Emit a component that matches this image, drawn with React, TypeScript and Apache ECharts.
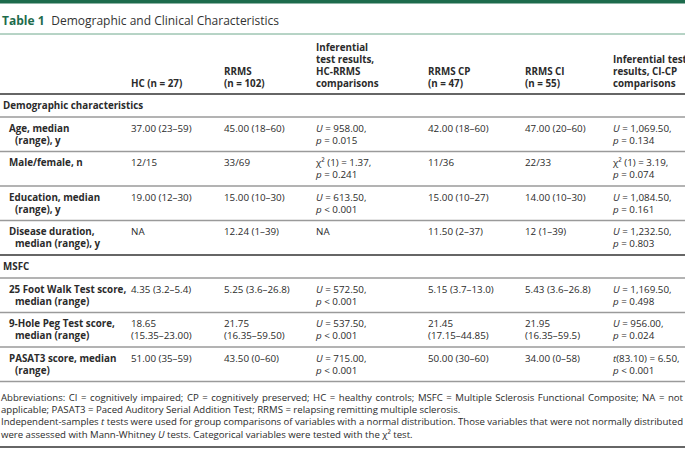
import React, { useEffect, useRef } from "react";
import * as echarts from "echarts";

const title = "Demographic and Clinical Characteristics";
const tableLabel = "Table 1";

const headers = [
  "",
  "HC (n = 27)",
  "RRMS\n(n = 102)",
  "Inferential\ntest results,\nHC-RRMS\ncomparisons",
  "RRMS CP\n(n = 47)",
  "RRMS CI\n(n = 55)",
  "Inferential test\nresults, CI-CP\ncomparisons",
];

const sections = ["Demographic characteristics", "MSFC"];

const rowLabels = [
  ["Age, median", "(range), y"],
  ["Male/female, n"],
  ["Education, median", "(range), y"],
  ["Disease duration,", "median (range), y"],
  ["25 Foot Walk Test score,", "median (range)"],
  ["9-Hole Peg Test score,", "median (range)"],
  ["PASAT3 score, median", "(range)"],
];
const rowSection = [0, 0, 0, 0, 1, 1, 1];

const hcValues = ["37.00 (23–59)", "12/15", "19.00 (12–30)", "NA", "4.35 (3.2–5.4)", "18.65\n(15.35–23.00)", "51.00 (35–59)"];
const rrmsValues = ["45.00 (18–60)", "33/69", "15.00 (10–30)", "12.24 (1–39)", "5.25 (3.6–26.8)", "21.75\n(16.35–59.50)", "43.50 (0–60)"];
const hcRrmsTests = [
  "{i|U} = 958.00,\n{i|p} = 0.015",
  "χ² (1) = 1.37,\n{i|p} = 0.241",
  "{i|U} = 613.50,\n{i|p} < 0.001",
  "NA",
  "{i|U} = 572.50,\n{i|p} < 0.001",
  "{i|U} = 537.50,\n{i|p} < 0.001",
  "{i|U} = 715.00,\n{i|p} < 0.001",
];
const cpValues = ["42.00 (18–60)", "11/36", "15.00 (10–27)", "11.50 (2–37)", "5.15 (3.7–13.0)", "21.45\n(17.15–44.85)", "50.00 (30–60)"];
const ciValues = ["47.00 (20–60)", "22/33", "14.00 (10–30)", "12 (1–39)", "5.43 (3.6–26.8)", "21.95\n(16.35–59.5)", "34.00 (0–58)"];
const ciCpTests = [
  "{i|U} = 1,069.50,\n{i|p} = 0.134",
  "χ² (1) = 3.19,\n{i|p} = 0.074",
  "{i|U} = 1,084.50,\n{i|p} = 0.161",
  "{i|U} = 1,232.50,\n{i|p} = 0.803",
  "{i|U} = 1,169.50,\n{i|p} = 0.498",
  "{i|U} = 956.00,\n{i|p} = 0.024",
  "{i|t}(83.10) = 6.50,\n{i|p} < 0.001",
];

const footnotes = [
  "Abbreviations: CI = cognitively impaired; CP = cognitively preserved; HC = healthy controls; MSFC = Multiple Sclerosis Functional Composite; NA = not",
  "applicable; PASAT3 = Paced Auditory Serial Addition Test; RRMS = relapsing remitting multiple sclerosis.",
  "Independent-samples {i|t} tests were used for group comparisons of variables with a normal distribution. Those variables that were not normally distributed",
  "were assessed with Mann-Whitney {i|U} tests. Categorical variables were tested with the χ² test.",
];
const footnoteJustified = [true, false, true, false];

const FONT = "'Open Sans', 'Noto Sans', sans-serif";
const TEXT = "#2b2b2b";
const GREEN = "#1d6b4c";
const W = 685;

let measureCtx: CanvasRenderingContext2D | null = null;
function measure(t: string, size: number) {
  if (!measureCtx) measureCtx = document.createElement("canvas").getContext("2d");
  measureCtx!.font = `${size}px ${FONT}`;
  return measureCtx!.measureText(t.replace(/\{i\|([^}]*)\}/g, "$1")).width;
}

function buildGraphic() {
  const els: any[] = [];
  const colX = [9, 131, 224, 316, 428, 525, 613];
  const fs = 9.8;
  const lh = 12.2;
  const mkRich = (size: number) => ({ i: { fontStyle: "italic", fontFamily: FONT, fontSize: size, fill: TEXT } });

  const hline = (y: number, color: string, w: number) =>
    els.push({ type: "line", shape: { x1: 0, y1: y, x2: W, y2: y }, style: { stroke: color, lineWidth: w } });
  const text = (x: number, y: number, t: string, opts: any = {}) => {
    const style: any = {
      text: t,
      fontFamily: FONT,
      fontSize: fs,
      fill: TEXT,
      lineHeight: lh,
      verticalAlign: "top",
      ...opts,
    };
    if (t.indexOf("{i|") >= 0) style.rich = mkRich(style.fontSize);
    els.push({ type: "text", x, y, style });
  };

  // top bar
  els.push({ type: "rect", shape: { x: 0, y: 0, width: W, height: 3.5 }, style: { fill: GREEN } });
  // title
  els.push({
    type: "text",
    x: 2,
    y: 20,
    style: {
      text: `{b|${tableLabel}}  {r|${title}}`,
      verticalAlign: "middle",
      rich: {
        b: { fontFamily: FONT, fontSize: 12, fontWeight: "bold", fill: GREEN },
        r: { fontFamily: FONT, fontSize: 12, fill: "#333" },
      },
    },
  });
  hline(34, "#6fa88c", 1);

  // headers (bottom aligned)
  headers.forEach((h, i) => {
    if (!h) return;
    text(colX[i], 90, h, { verticalAlign: "bottom", fontWeight: "bold" });
  });
  hline(94, "#333", 1.5);

  let y = 94;
  let cur = -1;
  rowLabels.forEach((lab, r) => {
    if (rowSection[r] !== cur) {
      cur = rowSection[r];
      text(colX[0] - 6, y + 5, sections[cur], { fontWeight: "bold" });
      y += 23;
      hline(y, "#9a9a9a", 1.3);
    }
    const top = y + 5;
    lab.forEach((l, k) => text(colX[0] + (k > 0 ? 6 : 0), top + k * lh, l, { fontWeight: "bold" }));
    text(colX[1], top, hcValues[r]);
    text(colX[2], top, rrmsValues[r]);
    text(colX[3], top, hcRrmsTests[r]);
    text(colX[4], top, cpValues[r]);
    text(colX[5], top, ciValues[r]);
    text(colX[6], top, ciCpTests[r]);
    y += 34.5;
    const last = r === rowLabels.length - 1 || rowSection[r + 1] !== rowSection[r];
    hline(y, last && r !== rowLabels.length - 1 ? "#333" : "#9a9a9a", last ? 1.5 : 1.3);
  });

  // footnotes
  const ffs = 9.6;
  const fx0 = 1;
  const fx1 = 683;
  footnotes.forEach((f, k) => {
    const fy = 391 + k * 12.4;
    if (!footnoteJustified[k]) {
      text(fx0, fy, f, { fontSize: ffs });
      return;
    }
    const words = f.split(" ");
    const widths = words.map((w) => measure(w, ffs));
    const total = widths.reduce((a, b) => a + b, 0);
    const gap = (fx1 - fx0 - total) / (words.length - 1);
    let x = fx0;
    words.forEach((w, j) => {
      text(x, fy, w, { fontSize: ffs });
      x += widths[j] + gap;
    });
  });
  hline(447, "#333", 1.5);
  return els;
}

export default function App() {
  const ref = useRef<HTMLDivElement>(null);
  useEffect(() => {
    const chart = echarts.init(ref.current!, undefined, { renderer: "svg" });
    chart.setOption({
      animation: false,
      backgroundColor: "#ffffff",
      graphic: { elements: buildGraphic() },
    });
    return () => chart.dispose();
  }, []);
  return (
    <div
      ref={ref}
      style={{ position: "fixed", left: 0, top: 0, width: 685, height: 455, background: "#fff" }}
    />
  );
}
